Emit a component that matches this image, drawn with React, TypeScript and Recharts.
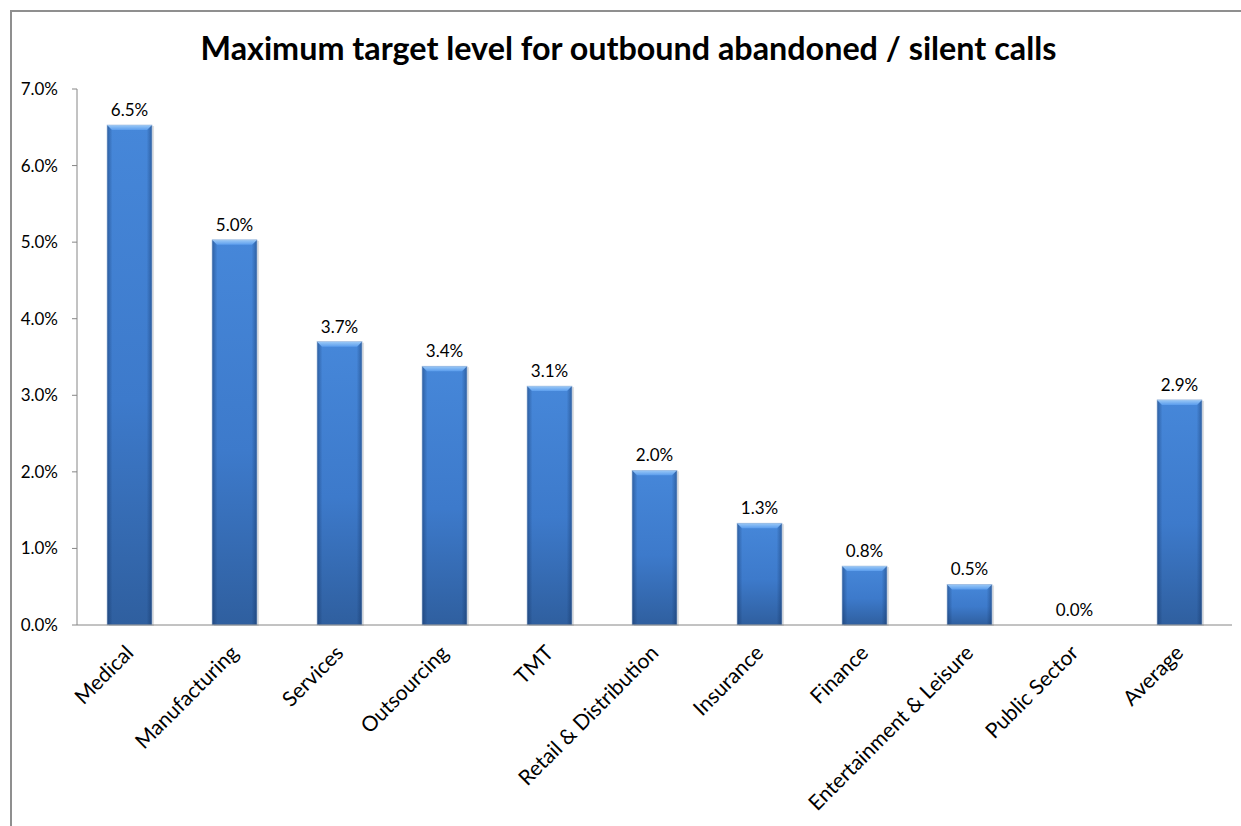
import React from "react";
import { BarChart, Bar, XAxis, YAxis, LabelList } from "recharts";

const categories = [
  "Medical",
  "Manufacturing",
  "Services",
  "Outsourcing",
  "TMT",
  "Retail & Distribution",
  "Insurance",
  "Finance",
  "Entertainment & Leisure",
  "Public Sector",
  "Average",
];
const values = [6.53, 5.03, 3.7, 3.38, 3.12, 2.02, 1.33, 0.77, 0.53, 0.0, 2.94];
const yTicks = [0, 1, 2, 3, 4, 5, 6, 7];
const title = "Maximum target level for outbound abandoned / silent calls";

const data = categories.map((name, i) => ({ name, value: values[i] }));

const FONT = "Lato, 'Open Sans', sans-serif";
const AXIS = "#868686";

const BarShape = (props: any) => {
  const { x, y, width, height } = props;
  if (!height || height <= 0.5) return null;
  const b = Math.min(5, height / 2);
  return (
    <g>
      <rect x={x + 2} y={y + 1} width={width} height={height} fill="rgba(0,0,0,0.12)" />
      <rect x={x} y={y} width={width} height={height} fill="url(#barV)" />
      <rect x={x} y={y} width={width} height={height} fill="url(#barH)" />
      <polygon
        points={`${x},${y} ${x + width},${y} ${x + width - b},${y + b} ${x + b},${y + b}`}
        fill="url(#barTop)"
      />
      <rect x={x} y={y} width={width} height={height} fill="none" stroke="#a9c0de" strokeWidth={0.6} />
    </g>
  );
};

const XTick = (props: any) => {
  const { x, y, payload } = props;
  return (
    <g transform={`translate(${x},${y + 16})`}>
      <text
        x={0}
        y={0}
        transform="rotate(-45)"
        textAnchor="end"
        fontFamily={FONT}
        fontSize={21}
        fill="#000"
        dy="0.35em"
      >
        {payload.value}
      </text>
    </g>
  );
};

export default function App() {
  return (
    <div style={{ position: "relative", width: 1241, height: 826, overflow: "hidden", background: "#fff" }}>
      <style>{`html, body { margin: 0; padding: 0; overflow: hidden; }`}</style>
      <svg width={0} height={0} style={{ position: "absolute" }}>
        <defs>
          <linearGradient id="barV" x1="0" y1="0" x2="0" y2="1">
            <stop offset="0%" stopColor="#4687d9" />
            <stop offset="55%" stopColor="#3d7acb" />
            <stop offset="100%" stopColor="#2f5f9f" />
          </linearGradient>
          <linearGradient id="barH" x1="0" y1="0" x2="1" y2="0">
            <stop offset="0%" stopColor="#0a2550" stopOpacity={0.4} />
            <stop offset="12%" stopColor="#0a2550" stopOpacity={0} />
            <stop offset="88%" stopColor="#0a2550" stopOpacity={0} />
            <stop offset="100%" stopColor="#0a2550" stopOpacity={0.4} />
          </linearGradient>
          <linearGradient id="barTop" x1="0" y1="0" x2="0" y2="1">
            <stop offset="0%" stopColor="#9ccaf7" />
            <stop offset="100%" stopColor="#5b9ded" />
          </linearGradient>
        </defs>
      </svg>
      <div
        style={{
          position: "absolute",
          left: 10,
          top: 10,
          width: 1231,
          height: 816,
          boxSizing: "border-box",
          borderLeft: "2px solid #8f8f8f",
          borderTop: "2px solid #8f8f8f",
        }}
      />
      <div
        style={{
          position: "absolute",
          left: 8,
          top: 29,
          width: 1241,
          textAlign: "center",
          fontFamily: FONT,
          fontWeight: 700,
          fontSize: 32.3,
          lineHeight: "38px",
          color: "#000",
          whiteSpace: "nowrap",
        }}
      >
        {title}
      </div>
      <div style={{ position: "absolute", left: 8, top: 8 }}>
        <BarChart
          width={1233}
          height={818}
          data={data}
          margin={{ top: 81, right: 9, left: 9, bottom: 11 }}
          barCategoryGap="28.6%"
        >
          <YAxis
            type="number"
            domain={[0, 7]}
            ticks={yTicks}
            interval={0}
            width={60}
            tickFormatter={(v: number) => v.toFixed(1) + "%"}
            axisLine={{ stroke: AXIS }}
            tickLine={{ stroke: AXIS }}
            tickSize={5}
            tickMargin={14}
            tick={{ fill: "#000", fontFamily: FONT, fontSize: 17 }}
          />
          <XAxis
            dataKey="name"
            interval={0}
            height={190}
            axisLine={{ stroke: AXIS }}
            tickLine={false}
            tick={<XTick />}
          />
          <XAxis
            xAxisId="ticks"
            type="number"
            domain={[0, 11]}
            ticks={[0, 1, 2, 3, 4, 5, 6, 7, 8, 9, 10, 11]}
            interval={0}
            height={0}
            axisLine={false}
            tickLine={{ stroke: AXIS }}
            tickSize={6}
            tick={false}
          />
          <Bar dataKey="value" isAnimationActive={false} shape={<BarShape />}>
            <LabelList
              dataKey="value"
              position="top"
              offset={9}
              formatter={(v: any) => Number(v).toFixed(1) + "%"}
              style={{ fontFamily: FONT, fontSize: 17, fill: "#000" }}
            />
          </Bar>
        </BarChart>
      </div>
    </div>
  );
}
